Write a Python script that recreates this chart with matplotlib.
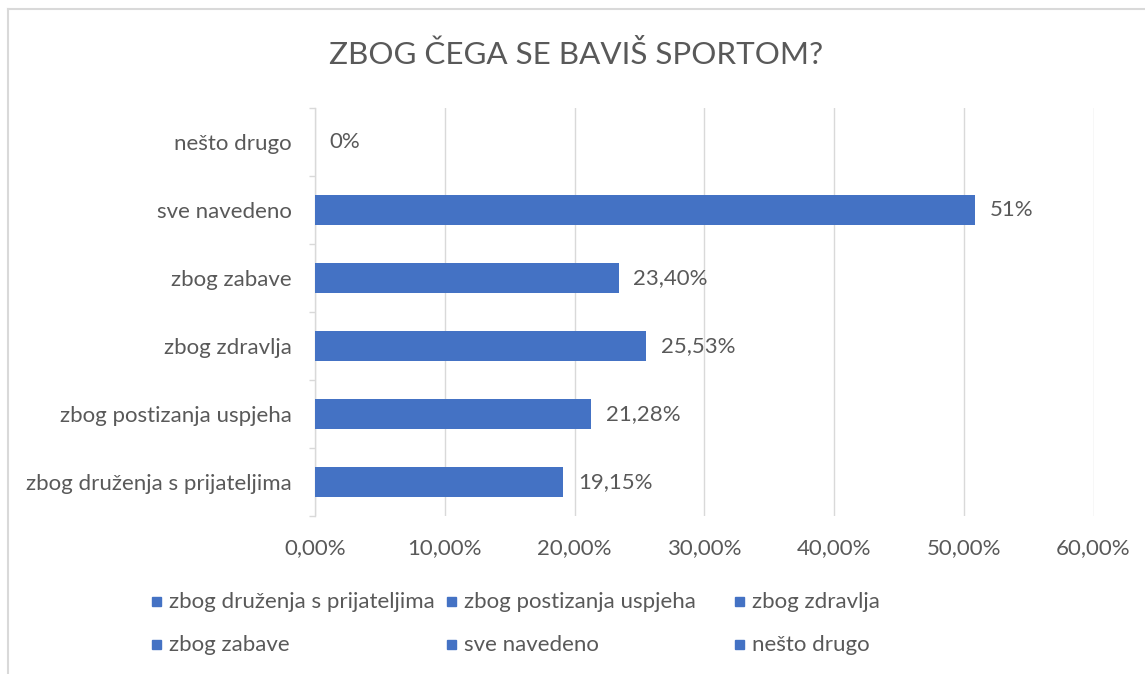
import matplotlib
matplotlib.use("Agg")
import matplotlib.pyplot as plt
from matplotlib.patches import Rectangle
from matplotlib.lines import Line2D
from matplotlib.ticker import FixedLocator

plt.rcParams['font.family'] = ['Lato', 'DejaVu Sans']

categories = ["zbog druženja s prijateljima", "zbog postizanja uspjeha", "zbog zdravlja",
              "zbog zabave", "sve navedeno", "nešto drugo"]
values = [19.15, 21.28, 25.53, 23.40, 50.9, 0.0]
value_labels = ["19,15%", "21,28%", "25,53%", "23,40%", "51%", "0%"]
xticks = [0, 10, 20, 30, 40, 50, 60]
xtick_labels = ["0,00%", "10,00%", "20,00%", "30,00%", "40,00%", "50,00%", "60,00%"]
title = "ZBOG ČEGA SE BAVIŠ SPORTOM?"

W, H = 1145, 674
BAR = "#4472C4"
GRID = "#D9D9D9"
TXT = "#595959"
FS = 16

fig = plt.figure(figsize=(W / 100, H / 100), dpi=100)
fig.patch.set_facecolor("white")

# chart border (left and top visible)
fig.add_artist(Line2D([7.5 / W, 7.5 / W], [0, 1 - 9 / H], color=GRID, lw=1.5, transform=fig.transFigure))
fig.add_artist(Line2D([7.5 / W, 1], [1 - 9 / H, 1 - 9 / H], color=GRID, lw=1.5, transform=fig.transFigure))

ax = fig.add_axes([315 / W, 1 - 516 / H, (1093.5 - 315) / W, (516 - 108) / H])
ypos = list(range(len(categories)))
ax.barh(ypos, values, height=0.44, color=BAR, zorder=3)
ax.set_xlim(0, 60)
ax.set_ylim(-0.5, len(categories) - 0.5)

ax.set_xticks(xticks)
ax.set_xticklabels(xtick_labels)
ax.set_yticks(ypos)
ax.set_yticklabels(categories)
ax.yaxis.set_minor_locator(FixedLocator([i - 0.5 for i in range(len(categories) + 1)]))

ax.tick_params(axis='x', length=0, pad=16, labelsize=FS, labelcolor=TXT)
ax.tick_params(axis='y', which='major', length=0, pad=17, labelsize=FS, labelcolor=TXT)
ax.tick_params(axis='y', which='minor', length=4.3, width=1, color=GRID)

for s in ['top', 'right', 'bottom']:
    ax.spines[s].set_visible(False)
ax.spines['left'].set_color(GRID)
ax.spines['left'].set_linewidth(1)
ax.grid(axis='x', color=GRID, lw=1, zorder=0)
ax.set_axisbelow(True)

for y, v, lab in zip(ypos, values, value_labels):
    ax.annotate(lab, (v, y), xytext=(10.5, 0), textcoords='offset points',
                ha='left', va='center', fontsize=FS, color=TXT)

fig.text(0.503, 1 - 55 / H, title, ha='center', va='center', fontsize=22.6, color=TXT)

# legend (row-wise, uniform columns like Excel)
leg_cols = [152, 447, 735]
leg_rows = [602, 645]
for i, cat in enumerate(categories):
    r, c = divmod(i, 3)
    x0 = leg_cols[c]
    yc = leg_rows[r]
    fig.add_artist(Rectangle((x0 / W, 1 - (yc + 4) / H), 9 / W, 9 / H, color=BAR,
                             transform=fig.transFigure))
    fig.text((x0 + 17) / W, 1 - yc / H, cat, ha='left', va='center', fontsize=FS, color=TXT)

fig.savefig("out.png", dpi=100)
